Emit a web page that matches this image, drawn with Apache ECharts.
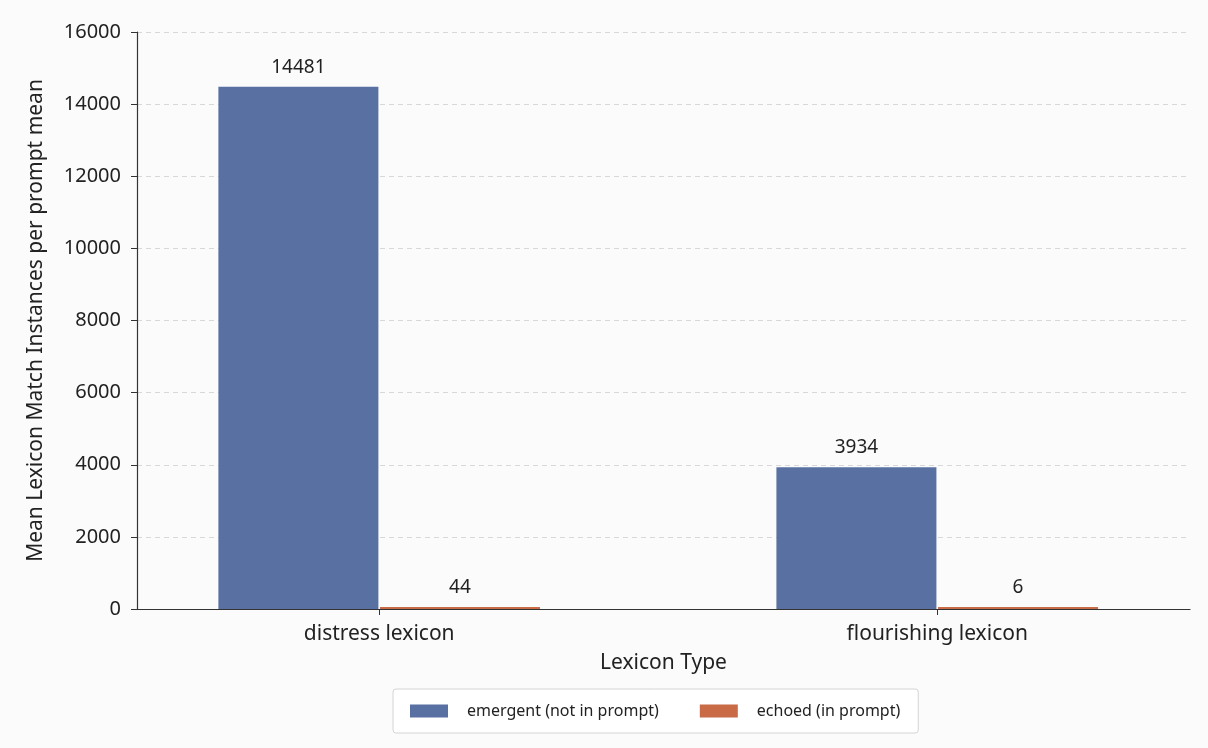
<!DOCTYPE html>
<html>
<head>
<meta charset="utf-8">
<script src="https://cdn.jsdelivr.net/npm/echarts@6/dist/echarts.min.js"></script>
<style>
  html, body { margin: 0; padding: 0; background: #fbfbfb; }
  #chart { width: 1208px; height: 748px; }
</style>
</head>
<body>
<div id="chart"></div>
<script>
// data
var categories = ['distress lexicon', 'flourishing lexicon'];
var seriesNames = ['emergent (not in prompt)', 'echoed (in prompt)'];
var emergent = [14481, 3934];
var echoed = [44, 6];

var colors = ['#5870a2', '#c96b47'];
var font = 'Noto Sans';

/**
 * 把值数组转成 [位置, 值] 对
 */
function toPairs(values) {
    var out = [];
    for (var i = 0; i < values.length; i++) {
        out.push([i, values[i]]);
    }
    return out;
}

function makeSeries(name, values, color) {
    return {
        name: name,
        type: 'bar',
        data: toPairs(values),
        barWidth: 160,
        barGap: '1%',
        barMinHeight: 2,
        itemStyle: { color: color },
        label: {
            show: true,
            position: 'top',
            distance: 10,
            color: '#222',
            fontFamily: font,
            fontSize: 19,
            formatter: function (p) { return p.value[1]; }
        }
    };
}

var chart = echarts.init(document.getElementById('chart'));
chart.setOption({
    backgroundColor: '#fbfbfb',
    animation: false,
    grid: { left: 137, right: 18, top: 32, bottom: 139 },
    legend: {
        data: seriesNames,
        icon: 'rect',
        bottom: 15,
        left: 393,
        itemWidth: 38,
        itemHeight: 13,
        itemGap: 41,
        padding: [14, 18, 14, 17],
        borderColor: '#d4d4d4',
        borderWidth: 1,
        borderRadius: 3,
        backgroundColor: '#ffffff',
        textStyle: { fontFamily: font, fontSize: 16, color: '#222', padding: [0, 0, 0, 14] }
    },
    xAxis: {
        type: 'value',
        min: -0.434,
        max: 1.453,
        name: 'Lexicon Type',
        nameLocation: 'middle',
        nameGap: 44,
        nameTextStyle: { fontFamily: font, fontSize: 21, color: '#222' },
        axisLine: { show: true, lineStyle: { color: '#333', width: 1.2 } },
        axisTick: { show: true, customValues: [0, 1], length: 6, lineStyle: { color: '#333' } },
        axisLabel: {
            customValues: [0, 1],
            margin: 15,
            fontFamily: font,
            fontSize: 21,
            color: '#222',
            formatter: function (v) { return categories[Math.round(v)]; }
        },
        splitLine: { show: false }
    },
    yAxis: {
        type: 'value',
        min: 0,
        max: 16000,
        interval: 2000,
        name: 'Mean Lexicon Match Instances per prompt mean',
        nameLocation: 'middle',
        nameGap: 90,
        nameTextStyle: { fontFamily: font, fontSize: 21, color: '#222' },
        axisLine: { show: true, onZero: false, lineStyle: { color: '#333', width: 1.2 } },
        axisTick: { show: true, length: 6, lineStyle: { color: '#333' } },
        axisLabel: {
            margin: 16,
            fontFamily: font,
            fontSize: 20,
            color: '#222',
            formatter: function (v) { return String(v); }
        },
        splitLine: { show: true, lineStyle: { color: '#d8d8d8', type: [5, 4] } }
    },
    series: [
        makeSeries(seriesNames[0], emergent, colors[0]),
        makeSeries(seriesNames[1], echoed, colors[1])
    ]
});
</script>
</body>
</html>
